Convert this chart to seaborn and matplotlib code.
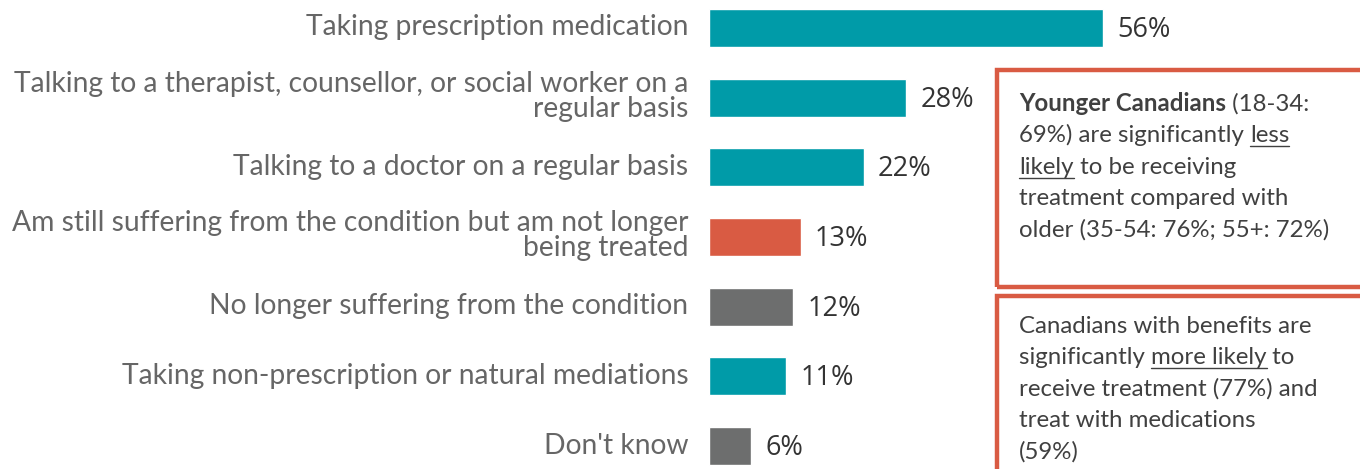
import numpy as np
import pandas as pd
import seaborn as sns
from matplotlib import pyplot as plt
from matplotlib.patches import Rectangle
import matplotlib.transforms as mtransforms

# data
labels = [
    "Taking prescription medication",
    "Talking to a therapist, counsellor, or social worker on a\nregular basis",
    "Talking to a doctor on a regular basis",
    "Am still suffering from the condition but am not longer\nbeing treated",
    "No longer suffering from the condition",
    "Taking non-prescription or natural mediations",
    "Don't know",
]
values = [56, 28, 22, 13, 12, 11, 6]
groups = ["treated", "treated", "treated", "untreated", "other", "treated", "other"]

teal = "#009ba8"
orange = "#d95b43"
grey = "#6d6e6e"
palette = {"treated": teal, "untreated": orange, "other": grey}

df = pd.DataFrame({"label": labels, "value": values, "group": groups})

sns.set_theme(style="white")
plt.rcParams['font.family'] = ['Lato', 'DejaVu Sans']

W, H = 1360, 469
fig = plt.figure(figsize=(W / 100, H / 100), dpi=100)
ax = fig.add_axes([709 / W, 0, 1 - 709 / W, 1])

sns.barplot(data=df, y="label", x="value", hue="group", palette=palette,
            dodge=False, legend=False, width=0.545, saturation=1, ax=ax, orient="h")

ax.set_xlim(0, (W - 709) / 7.04)
ax.set_ylim(6.33, -0.40)
ax.set_xlabel("")
ax.set_ylabel("")
ax.set_xticks([])
sns.despine(ax=ax, left=True, bottom=True)
ax.tick_params(axis="y", length=0, pad=15, labelsize=20.3, labelcolor="#666666")
# nudge the category labels up a few pixels, like the original
shift = mtransforms.ScaledTranslation(0, 3 / 100, fig.dpi_scale_trans)
for t in ax.get_yticklabels():
    t.set_horizontalalignment("right")
    t.set_multialignment("right")
    t.set_linespacing(0.95)
    t.set_transform(t.get_transform() + shift)

for i, v in enumerate(values):
    ax.text(v + 2.0, i + 0.03, f"{v}%", va="center", ha="left", fontsize=19.5,
            color="#333333", family=["Open Sans", "DejaVu Sans"])

# callout boxes
red = "#d95b43"
fig.patches.append(Rectangle((997 / W, 1 - 287 / H), 400 / W, 217 / H,
                             transform=fig.transFigure, fill=False,
                             edgecolor=red, linewidth=3.2))
fig.patches.append(Rectangle((997 / W, -0.05), 400 / W, (469 - 296) / H + 0.05,
                             transform=fig.transFigure, fill=False,
                             edgecolor=red, linewidth=3.2))

box1 = [
    [("Younger Canadians", "bold", False), (" (18-34:", "normal", False)],
    [("69%) are significantly ", "normal", False), ("less", "normal", True)],
    [("likely", "normal", True), (" to be receiving", "normal", False)],
    [("treatment compared with", "normal", False)],
    [("older (35-54: 76%; 55+: 72%)", "normal", False)],
]
box2 = [
    [("Canadians with benefits are", "normal", False)],
    [("significantly ", "normal", False), ("more likely", "normal", True), (" to", "normal", False)],
    [("receive treatment (77%) and", "normal", False)],
    [("treat with medications", "normal", False)],
    [("(59%)", "normal", False)],
]

fig.canvas.draw()
renderer = fig.canvas.get_renderer()


def draw_lines(lines, x0, y0, step):
    for k, line in enumerate(lines):
        x = x0
        y = y0 + k * step
        for txt, weight, under in line:
            t = fig.text(x / W, 1 - y / H, txt, fontsize=17.3, fontweight=weight,
                         color="#404040", va="baseline", ha="left")
            bb = t.get_window_extent(renderer)
            if under:
                uy = 1 - (y + 4) / H
                fig.add_artist(plt.Line2D([bb.x0 / W, bb.x1 / W], [uy, uy],
                                          color="#404040", linewidth=1.0))
            x += bb.width


draw_lines(box1, 1019, 111, 31.3)
draw_lines(box2, 1019, 333, 31.3)

fig.savefig("out.png", dpi=100)
